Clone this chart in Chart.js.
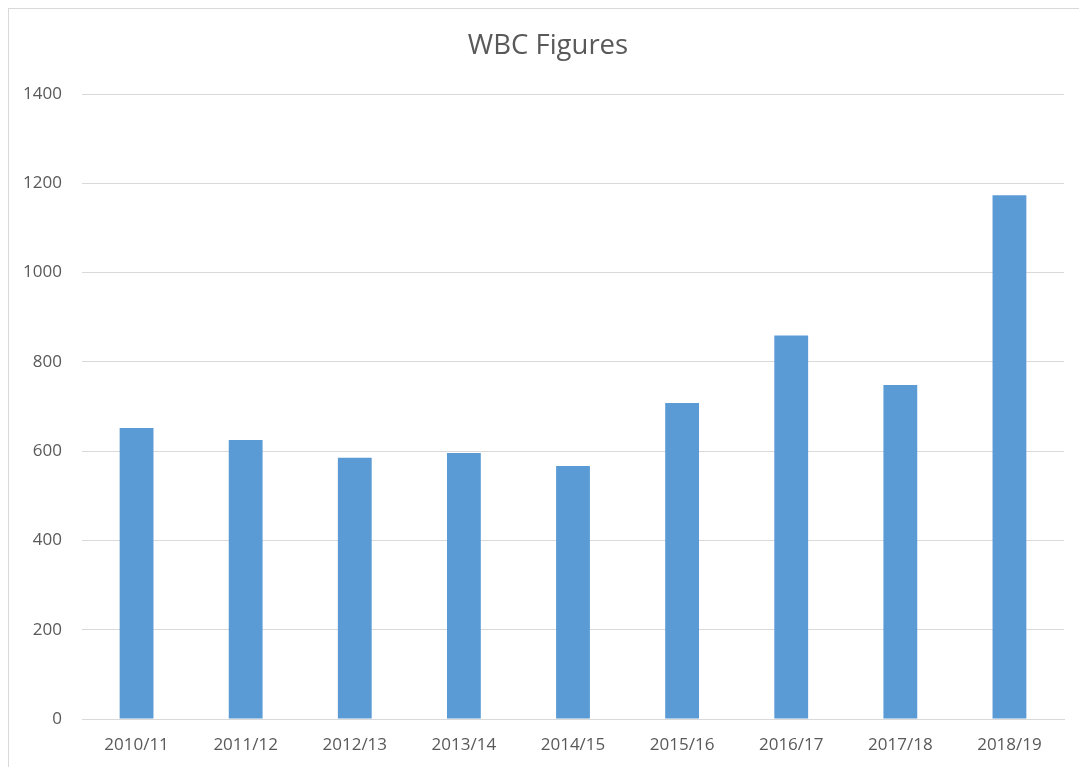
<!DOCTYPE html>
<html>
<head>
<meta charset="utf-8">
<script src="https://cdn.jsdelivr.net/npm/chart.js@4.4.0/dist/chart.umd.min.js"></script>
<style>
  html, body { margin: 0; padding: 0; background: #ffffff; }
  #frame { position: absolute; left: 8px; top: 8px; width: 1100px; height: 800px;
           border-left: 1px solid #d9d9d9; border-top: 1px solid #d9d9d9; }
  #wrap { position: absolute; left: 0; top: 0; width: 1079px; height: 767px; }
</style>
</head>
<body>
<div id="frame"></div>
<div id="wrap"><canvas id="c" width="1079" height="767"></canvas></div>
<script>
const categories = ["2010/11", "2011/12", "2012/13", "2013/14", "2014/15", "2015/16", "2016/17", "2017/18", "2018/19"];
const wbcValues = [652, 625, 585, 596, 567, 708, 859, 748, 1173];
const yTicks = [0, 200, 400, 600, 800, 1000, 1200, 1400];
const chartTitle = "WBC Figures";

const textColor = "#595959";
const fontFamily = "'Open Sans', 'Liberation Sans', sans-serif";

// shift the title's horizontal box so it is centred like the reference
const titleShift = {
  id: "titleShift",
  afterLayout(chart) {
    if (chart.titleBlock) { chart.titleBlock.left = 32; }
  }
};

new Chart(document.getElementById("c"), {
  type: "bar",
  data: {
    labels: categories,
    datasets: [{
      label: "WBC",
      data: wbcValues,
      backgroundColor: "#5b9bd5",
      borderColor: "#5b9bd5",
      borderWidth: 0,
      barPercentage: 0.31,
      categoryPercentage: 1.0
    }]
  },
  plugins: [titleShift],
  options: {
    responsive: false,
    animation: false,
    layout: { padding: { left: 0, right: 15, top: 0, bottom: 0 } },
    plugins: {
      legend: { display: false },
      tooltip: { enabled: false },
      title: {
        display: true,
        text: chartTitle,
        color: textColor,
        font: { family: fontFamily, size: 27.5, weight: "normal" },
        padding: { top: 30, bottom: 31 }
      }
    },
    scales: {
      x: {
        grid: { display: false, drawTicks: false },
        border: { display: true, color: "#d9d9d9", width: 1 },
        ticks: {
          color: textColor,
          font: { family: fontFamily, size: 17 },
          padding: 16,
          maxRotation: 0
        },
        afterFit: (s) => { s.height = 48; }
      },
      y: {
        min: yTicks[0],
        max: yTicks[yTicks.length - 1],
        afterBuildTicks: (s) => { s.ticks = yTicks.map(v => ({ value: v })); },
        grid: { color: "#d9d9d9", lineWidth: 1, drawTicks: false },
        border: { display: false },
        ticks: {
          color: textColor,
          font: { family: fontFamily, size: 17 },
          padding: 20,
          callback: (v) => String(v)
        },
        afterFit: (s) => { s.width = 82; }
      }
    }
  }
});
</script>
</body>
</html>
